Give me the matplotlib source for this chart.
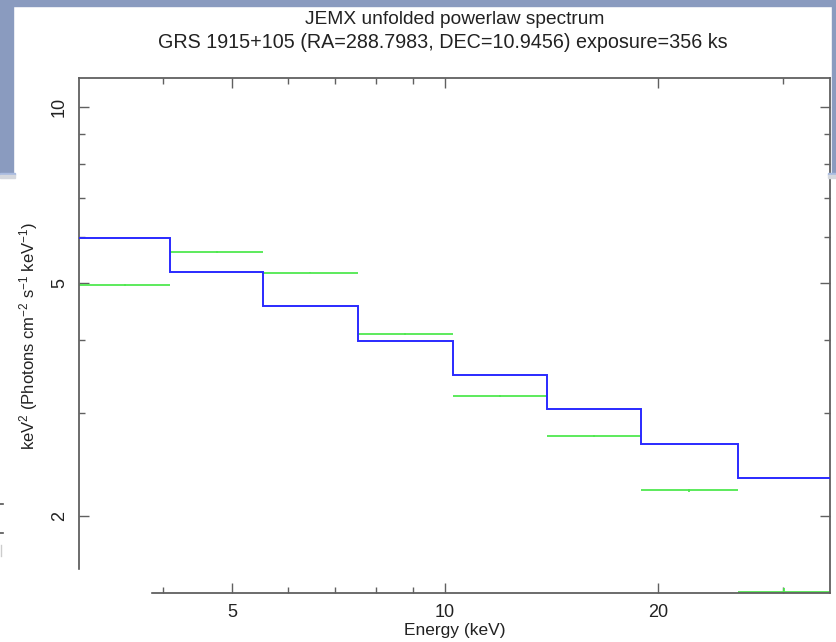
import matplotlib
matplotlib.use("Agg")
import matplotlib.pyplot as plt
import numpy as np
from matplotlib.patches import Rectangle
from matplotlib.ticker import FixedLocator, NullFormatter, FixedFormatter

plt.rcParams['font.family'] = ['Liberation Sans', 'DejaVu Sans']
plt.rcParams['mathtext.default'] = 'regular'

# Energy bin edges (keV), log-spaced JEM-X channels
bin_edges = [3.04, 4.09, 5.53, 7.53, 10.26, 13.94, 18.92, 25.94, 35.0]
# Unfolded data, E^2 F(E) per bin
data_flux = [4.96, 5.65, 5.21, 4.09, 3.20, 2.74, 2.21, 1.48]
data_err = [0.015, 0.015, 0.015, 0.015, 0.012, 0.012, 0.012, 0.025]
# Powerlaw model, E^2 F(E) per bin
model_flux = [5.97, 5.22, 4.57, 3.98, 3.48, 3.04, 2.65, 2.32]

x_major = [5, 10, 20]
x_minor = [4, 6, 7, 8, 9, 30]
y_major = [2, 5, 10]
y_minor = [3, 4, 6, 7, 8, 9]

W, H = 836, 642
fig = plt.figure(figsize=(W / 100, H / 100), dpi=100)
fig.patch.set_facecolor('white')

# slide frame behind the plot
band = '#8a9bbf'
fig.patches.append(Rectangle((0, 1 - 6 / H), 1, 6 / H, transform=fig.transFigure,
                             color=band, zorder=0))
fig.patches.append(Rectangle((0, 1 - 173 / H), 13 / W, 173 / H, transform=fig.transFigure,
                             color=band, zorder=0))
fig.patches.append(Rectangle((832 / W, 1 - 173 / H), 4 / W, 173 / H, transform=fig.transFigure,
                             color=band, zorder=0))
for x0, w in [(0, 15), (828, 8)]:
    fig.patches.append(Rectangle((x0 / W, 1 - 175 / H), w / W, 2 / H, transform=fig.transFigure,
                                 color='#a9bbe0', zorder=0))
    fig.patches.append(Rectangle((x0 / W, 1 - 178 / H), w / W, 3 / H, transform=fig.transFigure,
                                 color='#d5d8de', zorder=0))

ax = fig.add_axes([79 / W, 1 - 593 / H, (830 - 79) / W, (593 - 78) / H])
ax.set_xscale('log')
ax.set_yscale('log')
ax.set_xlim(3.04, 35.0)
ax.set_ylim(1.476, 11.21)

edges = np.array(bin_edges)
centers = np.sqrt(edges[:-1] * edges[1:])
ax.stairs(model_flux, edges, color='#2a2aff', lw=1.4, zorder=3, baseline=None)
ax.errorbar(centers, data_flux,
            xerr=[centers - edges[:-1], edges[1:] - centers],
            yerr=data_err, fmt='none', ecolor='#4fe84f', elinewidth=1.3,
            capsize=0, zorder=2)

ax.xaxis.set_major_locator(FixedLocator(x_major))
ax.xaxis.set_minor_locator(FixedLocator(x_minor))
ax.xaxis.set_major_formatter(FixedFormatter([str(v) for v in x_major]))
ax.xaxis.set_minor_formatter(NullFormatter())
ax.yaxis.set_major_locator(FixedLocator(y_major))
ax.yaxis.set_minor_locator(FixedLocator(y_minor))
ax.yaxis.set_major_formatter(FixedFormatter([str(v) for v in y_major]))
ax.yaxis.set_minor_formatter(NullFormatter())

spine_c = '#606060'
for s in ax.spines.values():
    s.set_color(spine_c)
    s.set_linewidth(1.3)
ax.tick_params(which='both', direction='in', top=True, right=True, color=spine_c,
               width=1.0, labelsize=13, labelcolor='#222222')
ax.tick_params(which='major', length=7, pad=8)
ax.tick_params(which='minor', length=4)
for lab in ax.get_yticklabels():
    lab.set_rotation(90)
    lab.set_va('center')

ax.set_xlabel('Energy (keV)', fontsize=12.5, color='#222222', labelpad=1)
ax.set_ylabel(r'keV$^2$ (Photons cm$^{-2}$ s$^{-1}$ keV$^{-1}$)', fontsize=12,
              color='#222222', labelpad=8)

fig.text(455 / W, 1 - 20 / H, 'JEMX unfolded powerlaw spectrum',
         ha='center', va='center', fontsize=13.8, color='#222222')
fig.text(443 / W, 1 - 43 / H, 'GRS 1915+105 (RA=288.7983, DEC=10.9456) exposure=356 ks',
         ha='center', va='center', fontsize=14.2, color='#222222')

# white panel overlapping the lower-left corner
fig.patches.append(Rectangle((0, 0), 150 / W, 1 - 570 / H, transform=fig.transFigure,
                             color='white', zorder=10))
# edge marks of a neighbouring figure
for yy in [504, 533]:
    fig.lines.append(plt.Line2D([0, 3 / W], [1 - yy / H] * 2, transform=fig.transFigure,
                                color='#555555', lw=1.2))
fig.lines.append(plt.Line2D([0.5 / W] * 2, [1 - 545 / H, 1 - 556 / H],
                            transform=fig.transFigure, color='#cccccc', lw=1))

fig.savefig('out.png', dpi=100)
